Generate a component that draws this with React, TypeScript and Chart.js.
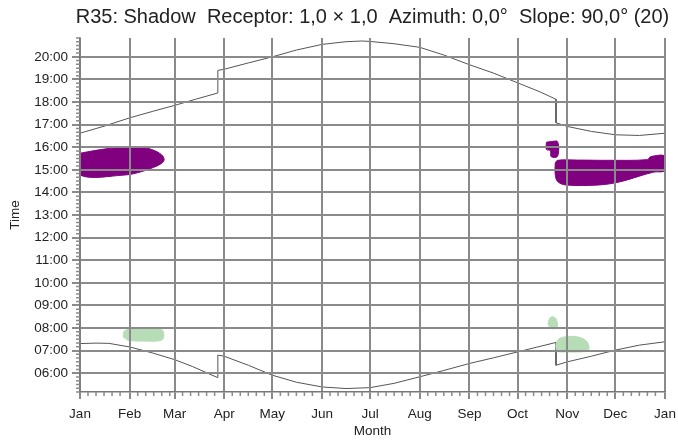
import { useEffect, useRef } from 'react';
import { Chart, registerables } from 'chart.js';
Chart.register(...registerables);

const titleText = 'R35: Shadow  Receptor: 1,0 × 1,0  Azimuth: 0,0°  Slope: 90,0° (20)';
const monthLabels = ['Jan', 'Feb', 'Mar', 'Apr', 'May', 'Jun', 'Jul', 'Aug', 'Sep', 'Oct', 'Nov', 'Dec', 'Jan'];
const monthStartDays = [0, 31, 59, 90, 120, 151, 181, 212, 243, 273, 304, 334, 365];
const hourTicks = [6, 7, 8, 9, 10, 11, 12, 13, 14, 15, 16, 17, 18, 19, 20];

// Sunset curve (day of year, hour)
const sunsetDays = [0, 15, 31, 45, 59, 72, 86, 86, 90, 105, 120, 135, 151, 166, 176, 181, 196, 212, 227, 243, 258, 273, 287, 297, 297, 304, 319, 334, 349, 365];
const sunsetHours = [16.62, 16.93, 17.3, 17.58, 17.85, 18.12, 18.4, 19.4, 19.45, 19.73, 20.0, 20.3, 20.55, 20.67, 20.7, 20.68, 20.58, 20.42, 20.08, 19.65, 19.28, 18.85, 18.45, 18.12, 17.08, 16.92, 16.7, 16.55, 16.52, 16.62];

// Sunrise curve
const sunriseDays = [0, 10, 18, 31, 45, 59, 70, 86, 86, 90, 105, 120, 135, 151, 166, 181, 196, 212, 227, 243, 258, 273, 285, 297, 297, 304, 319, 334, 349, 365];
const sunriseHours = [7.31, 7.33, 7.32, 7.16, 6.9, 6.6, 6.3, 5.8, 6.8, 6.75, 6.35, 5.91, 5.6, 5.39, 5.32, 5.36, 5.55, 5.84, 6.12, 6.43, 6.68, 6.94, 7.15, 7.36, 6.35, 6.5, 6.75, 7.02, 7.24, 7.39];

// Shadow areas (outline, day of year / hour)
const purpleJanDays = [0, 9, 17.5, 28, 38.5, 45.5, 51, 52.5, 51, 46, 38.5, 28, 0];
const purpleJanHours = [15.73, 15.85, 15.94, 16.0, 16.0, 15.88, 15.66, 15.45, 15.29, 15.11, 14.92, 14.77, 14.77];

const greenFebDays = [27, 27.5, 31, 40, 50, 52, 52, 50, 40, 30, 27];
const greenFebHours = [7.6, 7.85, 7.95, 8.0, 7.98, 7.82, 7.55, 7.44, 7.42, 7.46, 7.6];

const purpleOctDays = [291, 294, 298, 298, 294, 293.5, 291];
const purpleOctHours = [16.22, 16.25, 16.24, 15.6, 15.58, 15.85, 15.9];

const purpleNovDays = [296.5, 298, 310, 330, 354, 356, 365, 365, 358, 349, 337, 324, 303, 298, 296.5];
const purpleNovHours = [15.3, 15.42, 15.43, 15.42, 15.45, 15.58, 15.6, 14.97, 14.9, 14.72, 14.47, 14.33, 14.33, 14.48, 14.8];

const greenOctDays = [292, 293, 295, 297, 298, 296.5, 294];
const greenOctHours = [8.15, 8.42, 8.5, 8.4, 8.1, 7.98, 7.98];

const greenNovDays = [297, 298.5, 302, 307, 312, 316, 317.5, 317, 312, 303, 298, 297];
const greenNovHours = [7.3, 7.5, 7.6, 7.63, 7.58, 7.42, 7.2, 7.0, 6.94, 6.94, 6.96, 7.1];

const pts = (xs: number[], ys: number[]) => xs.map((x, i) => ({ x, y: ys[i] }));
const closed = (xs: number[], ys: number[]) => {
  const p = pts(xs, ys);
  p.push({ ...p[0] });
  return p;
};

const FONT = "'Liberation Sans', Arial, sans-serif";
const GRID = '#8a8a8a';

const blob = (label: string, data: any[], color: string) => ({
  label,
  data,
  borderColor: color,
  backgroundColor: color,
  borderWidth: 1,
  pointRadius: 0,
  fill: 'shape',
  tension: 0.35,
});

const hh = (v: number) => String(Math.round(v)).padStart(2, '0') + ':00';

export default function App() {
  const ref = useRef<HTMLCanvasElement>(null);
  useEffect(() => {
    if (!ref.current) return;
    const extras = {
      id: 'extras',
      afterDraw(chart: any) {
        const ctx = chart.ctx;
        const { left, right } = chart.chartArea;
        const xs = chart.scales.x;
        const ys = chart.scales.y;
        ctx.save();
        // title
        ctx.fillStyle = '#222';
        ctx.font = `20px ${FONT}`;
        ctx.textAlign = 'center';
        ctx.textBaseline = 'middle';
        ctx.fillText(titleText, (left + right) / 2, 17);
        // minor ticks
        ctx.strokeStyle = GRID;
        ctx.lineWidth = 1.5;
        ctx.beginPath();
        for (let m = 0; m < 12; m++) {
          for (let d = 5; d < monthStartDays[m + 1] - monthStartDays[m] - 1; d += 5) {
            const px = xs.getPixelForValue(monthStartDays[m] + d);
            ctx.moveTo(px, ys.bottom);
            ctx.lineTo(px, ys.bottom + 4);
          }
        }
        for (let t = Math.ceil(ys.min * 6); t <= Math.floor(ys.max * 6); t++) {
          if (t % 6 === 0) continue;
          const py = ys.getPixelForValue(t / 6);
          ctx.moveTo(xs.left, py);
          ctx.lineTo(xs.left - 4, py);
        }
        ctx.stroke();
        ctx.restore();
      },
    };
    const chart = new Chart(ref.current, {
      type: 'line',
      data: {
        datasets: [
          blob('purpleJan', closed(purpleJanDays, purpleJanHours), '#800080'),
          blob('purpleOct', closed(purpleOctDays, purpleOctHours), '#800080'),
          blob('purpleNov', closed(purpleNovDays, purpleNovHours), '#800080'),
          blob('greenFeb', closed(greenFebDays, greenFebHours), '#b6ddb6'),
          blob('greenOct', closed(greenOctDays, greenOctHours), '#b6ddb6'),
          blob('greenNov', closed(greenNovDays, greenNovHours), '#b6ddb6'),
          {
            label: 'sunset',
            data: pts(sunsetDays, sunsetHours),
            borderColor: '#555',
            borderWidth: 1,
            pointRadius: 0,
            fill: false,
            tension: 0,
          },
          {
            label: 'sunrise',
            data: pts(sunriseDays, sunriseHours),
            borderColor: '#555',
            borderWidth: 1,
            pointRadius: 0,
            fill: false,
            tension: 0,
          },
        ] as any,
      },
      options: {
        animation: false,
        responsive: false,
        devicePixelRatio: 1,
        layout: { padding: { top: 38, right: 13, left: 0, bottom: 0 } },
        plugins: { legend: { display: false }, tooltip: { enabled: false }, title: { display: false } },
        elements: { line: { capBezierPoints: false } },
        scales: {
          x: {
            type: 'linear',
            min: 0,
            max: 365,
            afterBuildTicks: (s: any) => {
              s.ticks = monthStartDays.map((v) => ({ value: v }));
            },
            afterFit: (s: any) => {
              s.height = 52;
              s.paddingLeft = 0;
              s.paddingRight = 0;
            },
            ticks: {
              autoSkip: false,
              maxRotation: 0,
              padding: 7,
              color: '#222',
              font: { family: FONT, size: 13.5 },
              callback: (_v: any, i: number) => monthLabels[i],
            },
            grid: { color: GRID, lineWidth: 2, tickLength: 7, z: 1 },
            border: { color: '#777', width: 1.5, z: 1 },
            title: { display: true, text: 'Month', color: '#222', font: { family: FONT, size: 13.5 }, padding: { top: 0, bottom: 5 } },
          },
          y: {
            type: 'linear',
            min: 5 + 10 / 60,
            max: 20 + 50 / 60,
            afterBuildTicks: (s: any) => {
              s.ticks = hourTicks.map((v) => ({ value: v }));
            },
            afterFit: (s: any) => {
              s.width = 80;
              s.paddingTop = 0;
              s.paddingBottom = 0;
            },
            ticks: {
              autoSkip: false,
              padding: 4,
              color: '#222',
              font: { family: FONT, size: 13.5 },
              callback: (v: any) => hh(Number(v)),
            },
            grid: { color: GRID, lineWidth: 2, tickLength: 8, z: 1 },
            border: { color: '#777', width: 1.5, z: 1 },
            title: { display: true, text: 'Time', color: '#222', font: { family: FONT, size: 13.5 }, padding: { top: 7, bottom: 0 } },
          },
        },
      } as any,
      plugins: [extras],
    });
    return () => chart.destroy();
  }, []);
  return (
    <div style={{ position: 'absolute', left: 0, top: 0, width: 678, height: 444, background: '#fff' }}>
      <canvas ref={ref} width={678} height={444} style={{ display: 'block', width: 678, height: 444 }} />
    </div>
  );
}
